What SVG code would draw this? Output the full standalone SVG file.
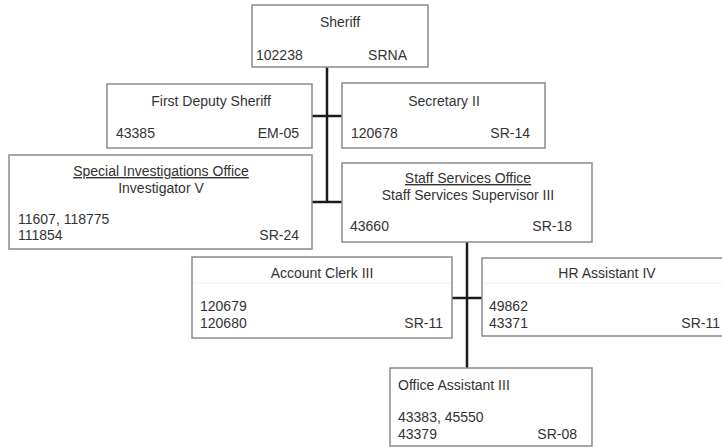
<svg xmlns="http://www.w3.org/2000/svg" width="722" height="447" viewBox="0 0 722 447">
<style>
.box{fill:#fff;stroke:#8a8a8a;stroke-width:1.5}
.t{font-family:"Liberation Sans",Arial,sans-serif;font-size:14px;fill:#333}
.c{text-anchor:middle}
.r{text-anchor:end}
.u{text-decoration:underline}
.conn{stroke:#1a1a1a;stroke-width:2.5;fill:none}
.div{stroke:#f0f0f0;stroke-width:1}
</style>
<rect width="722" height="447" fill="#fff"/>
<g id="connectors">
<line class="conn" x1="327" y1="67" x2="327" y2="203"/>
<line class="conn" x1="312" y1="116" x2="342" y2="116"/>
<line class="conn" x1="312" y1="202" x2="342" y2="202"/>
<line class="conn" x1="467" y1="242" x2="467" y2="368"/>
<line class="conn" x1="452" y1="298" x2="482" y2="298"/>
</g>
<g id="sheriff">
<rect class="box" x="252" y="5" width="176" height="62"/>
<text class="t c" x="340" y="27">Sheriff</text>
<text class="t" x="256" y="60">102238</text>
<text class="t r" x="407" y="60">SRNA</text>
</g>
<g id="first-deputy">
<rect class="box" x="107" y="84" width="205" height="64"/>
<text class="t c" x="211" y="106">First Deputy Sheriff</text>
<text class="t" x="116" y="138">43385</text>
<text class="t r" x="299" y="138">EM-05</text>
</g>
<g id="secretary">
<rect class="box" x="342" y="83" width="203" height="65"/>
<text class="t c" x="444" y="106">Secretary II</text>
<text class="t" x="351" y="138">120678</text>
<text class="t r" x="530" y="138">SR-14</text>
</g>
<g id="special-investigations">
<rect class="box" x="9" y="155" width="303" height="94"/>
<text class="t c u" x="161" y="176">Special Investigations Office</text>
<text class="t c" x="161" y="193">Investigator V</text>
<text class="t" x="18" y="224">11607, 118775</text>
<text class="t" x="18" y="240">111854</text>
<text class="t r" x="299" y="240">SR-24</text>
</g>
<g id="staff-services">
<rect class="box" x="342" y="163" width="250" height="79"/>
<text class="t c u" x="468" y="183">Staff Services Office</text>
<text class="t c" x="468" y="200">Staff Services Supervisor III</text>
<text class="t" x="350" y="231">43660</text>
<text class="t r" x="572" y="231">SR-18</text>
</g>
<g id="account-clerk">
<rect class="box" x="192" y="257" width="260" height="81"/>
<line class="div" x1="193" y1="283" x2="451" y2="283"/>
<text class="t c" x="322" y="278">Account Clerk III</text>
<text class="t" x="200" y="311">120679</text>
<text class="t" x="200" y="328">120680</text>
<text class="t r" x="443" y="328">SR-11</text>
</g>
<g id="hr-assistant">
<rect class="box" x="482" y="258" width="250" height="78"/>
<line class="div" x1="483" y1="283" x2="722" y2="283"/>
<text class="t c" x="607" y="278">HR Assistant IV</text>
<text class="t" x="489" y="311">49862</text>
<text class="t" x="489" y="328">43371</text>
<text class="t r" x="720" y="328">SR-11</text>
</g>
<g id="office-assistant">
<rect class="box" x="390" y="368" width="202" height="78"/>
<text class="t" x="398" y="390">Office Assistant III</text>
<text class="t" x="398" y="422">43383, 45550</text>
<text class="t" x="398" y="439">43379</text>
<text class="t r" x="577" y="439">SR-08</text>
</g>
</svg>
